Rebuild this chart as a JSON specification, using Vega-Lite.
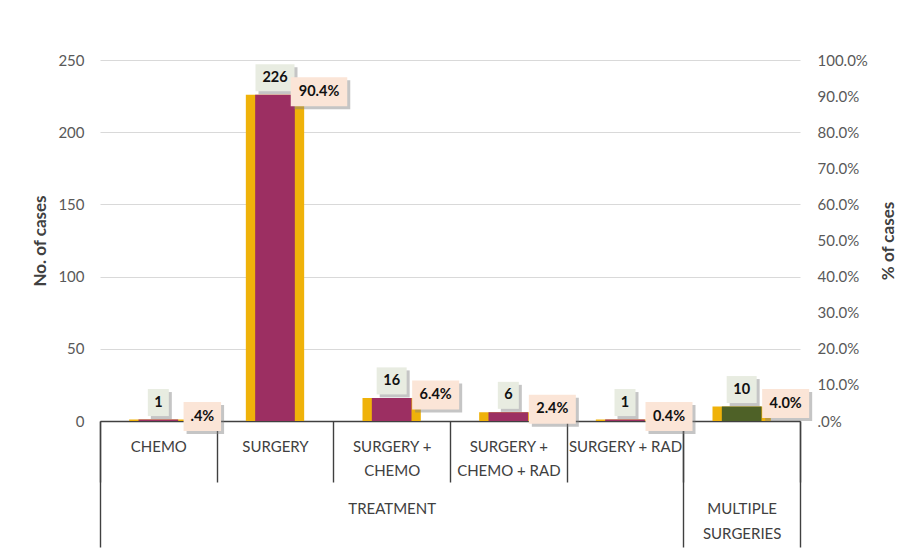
{
  "$schema": "https://vega.github.io/schema/vega-lite/v6.json",
  "width": 700,
  "height": 361,
  "autosize": {"type": "none"},
  "padding": {"left": 100, "top": 60, "right": 123, "bottom": 134},
  "background": "white",
  "config": {
    "font": "Lato",
    "view": {"stroke": null}
  },
  "data": {
    "values": [
      {"treatment": "CHEMO", "group": "TREATMENT", "cases": 1, "share": 0.004, "shareLabel": ".4%"},
      {"treatment": "SURGERY", "group": "TREATMENT", "cases": 226, "share": 0.904, "shareLabel": "90.4%"},
      {"treatment": "SURGERY + CHEMO", "group": "TREATMENT", "cases": 16, "share": 0.064, "shareLabel": "6.4%"},
      {"treatment": "SURGERY + CHEMO + RAD", "group": "TREATMENT", "cases": 6, "share": 0.024, "shareLabel": "2.4%"},
      {"treatment": "SURGERY + RAD", "group": "TREATMENT", "cases": 1, "share": 0.004, "shareLabel": "0.4%"},
      {"treatment": "MULTIPLE SURGERIES", "group": "MULTIPLE SURGERIES", "cases": 10, "share": 0.04, "shareLabel": "4.0%"}
    ]
  },
  "layer": [
    {
      "mark": {"type": "bar", "color": "#EFB20A", "width": {"band": 0.5}},
      "encoding": {
        "x": {
          "field": "treatment", "type": "nominal", "sort": null,
          "scale": {"paddingInner": 0, "paddingOuter": 0},
          "axis": {
            "orient": "bottom",
            "title": null, "labelAngle": 0, "labelOverlap": false, "labelBound": false,
            "labelFontSize": 15, "labelColor": "#404040", "labelLineHeight": 24,
            "labelPadding": -43,
            "labelExpr": "datum.value === 'MULTIPLE SURGERIES' ? '' : datum.value === 'SURGERY + CHEMO' ? ['SURGERY +', 'CHEMO'] : datum.value === 'SURGERY + CHEMO + RAD' ? ['SURGERY +', 'CHEMO + RAD'] : datum.value",
            "domainColor": "#404040", "domainWidth": 1.4,
            "tickBand": "extent", "tickSize": 61, "tickColor": "#404040", "tickWidth": 1.4
          }
        },
        "y": {
          "field": "cases", "type": "quantitative",
          "scale": {"domain": [0, 250], "nice": false},
          "axis": {
            "title": "No. of cases", "titleFontSize": 17, "titleFontWeight": "bold", "titleColor": "#404040",
            "titlePadding": 8,
            "values": [0, 50, 100, 150, 200, 250],
            "labelFontSize": 15, "labelColor": "#595959", "labelPadding": 16,
            "domain": false, "ticks": false,
            "grid": true, "gridColor": "#d9d9d9", "gridWidth": 1
          }
        }
      }
    },
    {
      "mark": {"type": "rect", "color": "#7f7f7f", "opacity": 0.45, "height": 27,
               "width": {"expr": "9 * length(toString(datum.cases)) + 12"},
               "xOffset": 3, "yOffset": -14},
      "encoding": {
        "x": {"field": "treatment", "type": "nominal", "sort": null, "axis": null},
        "y": {"field": "cases", "type": "quantitative", "scale": {"domain": [0, 250], "nice": false}, "axis": null}
      }
    },
    {
      "mark": {"type": "rect", "color": "#E8ECE1", "height": 27,
               "width": {"expr": "9 * length(toString(datum.cases)) + 12"},
               "yOffset": -17},
      "encoding": {
        "x": {"field": "treatment", "type": "nominal", "sort": null, "axis": null},
        "y": {"field": "cases", "type": "quantitative", "scale": {"domain": [0, 250], "nice": false}, "axis": null}
      }
    },
    {
      "mark": {"type": "text", "fontSize": 14.5, "fontWeight": "bold", "color": "#111111",
               "baseline": "middle", "yOffset": -17},
      "encoding": {
        "x": {"field": "treatment", "type": "nominal", "sort": null, "axis": null},
        "y": {"field": "cases", "type": "quantitative", "scale": {"domain": [0, 250], "nice": false}, "axis": null},
        "text": {"field": "cases", "type": "quantitative"}
      }
    },
    {
      "mark": {"type": "bar", "width": {"band": 0.34}},
      "encoding": {
        "x": {
          "field": "treatment", "type": "nominal", "sort": null,
          "axis": {
            "orient": "bottom",
            "title": null, "labelAngle": 0, "labelOverlap": false, "labelBound": false,
            "labelFontSize": 15, "labelColor": "#404040", "labelLineHeight": 25,
            "labelPadding": -46,
            "labelExpr": "datum.value === 'SURGERY + CHEMO' ? 'TREATMENT' : datum.value === 'MULTIPLE SURGERIES' ? ['MULTIPLE', 'SURGERIES'] : ''",
            "domain": false,
            "tickBand": "extent", "tickSize": 126, "tickColor": "#404040", "tickWidth": 1.4,
            "tickOpacity": {"condition": {"test": "datum.extra || datum.value === 'SURGERY + RAD' || datum.value === 'MULTIPLE SURGERIES'", "value": 1}, "value": 0}
          }
        },
        "y": {
          "field": "share", "type": "quantitative",
          "scale": {"domain": [0, 1], "nice": false},
          "axis": {
            "orient": "right",
            "title": "% of cases", "titleFontSize": 17, "titleFontWeight": "bold", "titleColor": "#404040",
            "titleAngle": 270, "titlePadding": 30,
            "values": [0, 0.1, 0.2, 0.3, 0.4, 0.5, 0.6, 0.7, 0.8, 0.9, 1],
            "labelExpr": "datum.value === 0 ? '.0%' : format(datum.value, '.1%')",
            "labelFontSize": 15, "labelColor": "#595959", "labelPadding": 17,
            "domain": false, "ticks": false, "grid": false
          }
        },
        "color": {
          "field": "group", "type": "nominal",
          "scale": {"domain": ["TREATMENT", "MULTIPLE SURGERIES"], "range": ["#9C2F62", "#4E6127"]},
          "legend": null
        }
      }
    },
    {
      "mark": {"type": "rect", "color": "#7f7f7f", "opacity": 0.45, "height": 29,
               "width": {"expr": "9.5 * length(datum.shareLabel) + 9"},
               "xOffset": 47, "yOffset": 0},
      "encoding": {
        "x": {"field": "treatment", "type": "nominal", "sort": null, "axis": null},
        "y": {"field": "share", "type": "quantitative", "scale": {"domain": [0, 1], "nice": false}, "axis": null}
      }
    },
    {
      "mark": {"type": "rect", "color": "#FBE5D7", "height": 29,
               "width": {"expr": "9.5 * length(datum.shareLabel) + 9"},
               "xOffset": 44, "yOffset": -3},
      "encoding": {
        "x": {"field": "treatment", "type": "nominal", "sort": null, "axis": null},
        "y": {"field": "share", "type": "quantitative", "scale": {"domain": [0, 1], "nice": false}, "axis": null}
      }
    },
    {
      "mark": {"type": "text", "fontSize": 14.5, "fontWeight": "bold", "color": "#111111",
               "baseline": "middle", "xOffset": 44, "yOffset": -3},
      "encoding": {
        "x": {"field": "treatment", "type": "nominal", "sort": null, "axis": null},
        "y": {"field": "share", "type": "quantitative", "scale": {"domain": [0, 1], "nice": false}, "axis": null},
        "text": {"field": "shareLabel"}
      }
    }
  ],
  "resolve": {"scale": {"y": "independent"}, "axis": {"x": "independent"}}
}
